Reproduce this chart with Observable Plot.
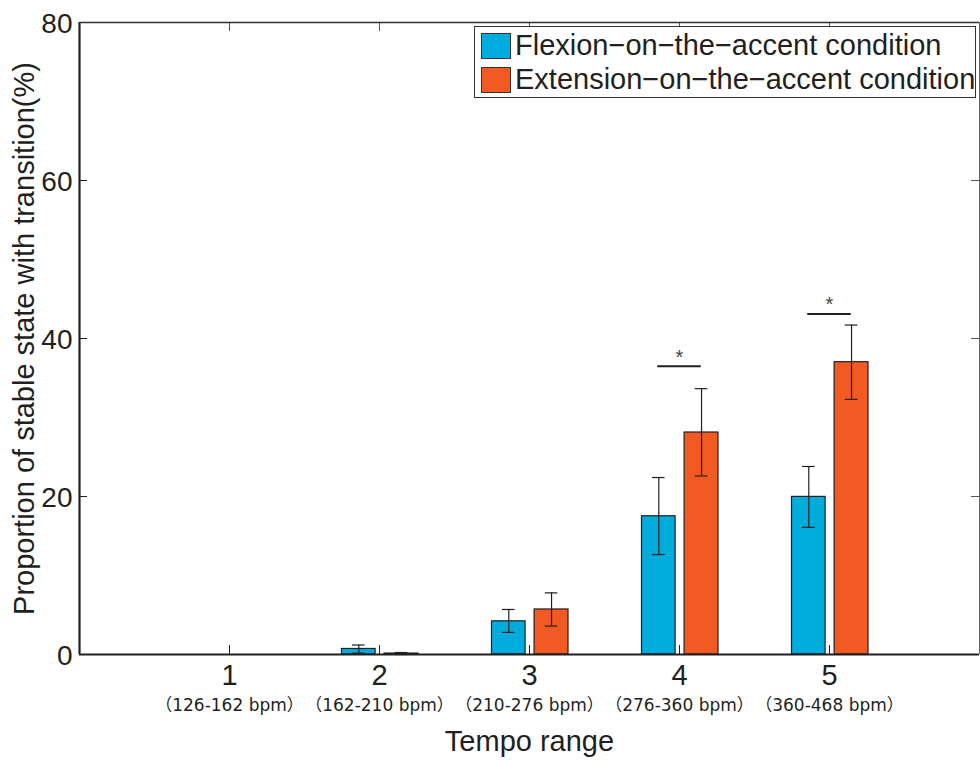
<!DOCTYPE html>
<html>
<head>
<meta charset="utf-8">
<script src="https://cdn.jsdelivr.net/npm/d3@7"></script>
<script src="https://cdn.jsdelivr.net/npm/@observablehq/plot@0.6"></script>
<style>
  html, body { margin: 0; padding: 0; background: #fff; }
  #wrap { position: relative; width: 980px; height: 760px; font-family: "Liberation Sans", Arial, "Noto Sans CJK JP", sans-serif; color: #231f20; }
  #legend { position: absolute; left: 474px; top: 26px; width: 502px; height: 72px; border: 1.5px solid #333; background: #fff; overflow: hidden; box-sizing: border-box; }
  .row { position: absolute; left: 6px; height: 27px; display: flex; align-items: center; white-space: nowrap; font-size: 29px; }
  .sw { width: 30px; height: 26px; border: 1px solid #333; box-sizing: border-box; margin-right: 4px; flex: none; }
</style>
</head>
<body>
<div id="wrap"></div>
<script>
const tempo = [1, 2, 3, 4, 5];
const rangeLabels = ["（126-162 bpm）", "（162-210 bpm）", "（210-276 bpm）", "（276-360 bpm）", "（360-468 bpm）"];
const flexMean = [0, 0.7, 4.2, 17.5, 19.95];
const flexLow  = [0, 0.17, 2.8, 12.65, 16.1];
const flexHigh = [0, 1.2, 5.7, 22.4, 23.8];
const extMean  = [0, 0.12, 5.7, 28.1, 37.0];
const extLow   = [0, 0.0, 3.6, 22.6, 32.3];
const extHigh  = [0, 0.25, 7.8, 33.65, 41.7];
const sigTempo = [4, 5];
const sigLevel = [36.5, 43.1];
const yTicks = [0, 20, 40, 60, 80];
const seriesNames = ["Flexion\u2212on\u2212the\u2212accent condition", "Extension\u2212on\u2212the\u2212accent condition"];
const seriesColors = ["#00acdb", "#f15a22"];

const bars = [];
tempo.forEach((t, i) => {
  bars.push({t, s: 0, mean: flexMean[i], lo: flexLow[i], hi: flexHigh[i], a: -0.25, b: -0.026});
  bars.push({t, s: 1, mean: extMean[i], lo: extLow[i], hi: extHigh[i], a: 0.034, b: 0.26});
});
const errBars = bars.filter(d => d.hi > 0);
const sig = sigTempo.map((t, i) => ({t, y: sigLevel[i]}));

const ink = "#231f20";
const font = "Liberation Sans, Arial, Noto Sans CJK JP, sans-serif";

const chart = Plot.plot({
  width: 980,
  height: 760,
  marginLeft: 79,
  marginRight: 1,
  marginTop: 22,
  marginBottom: 106,
  style: {fontFamily: font, color: ink, background: "#fff"},
  x: {domain: [0, 6], axis: null},
  y: {domain: [0, 80], axis: null},
  color: {domain: [0, 1], range: seriesColors},
  marks: [
    // y tick labels
    Plot.text(yTicks, {x: 0, y: d => d, text: d => String(d), textAnchor: "end", dx: -7, dy: 2, fontSize: 28, fill: ink}),
    // inward ticks left/right
    Plot.tickY(yTicks, {y: d => d, insetRight: 892, stroke: ink, strokeWidth: 1}),
    Plot.tickY(yTicks, {y: d => d, insetLeft: 892, stroke: "#555", strokeWidth: 1}),
    // inward ticks bottom/top
    Plot.tickX(tempo, {x: d => d, insetTop: 623, stroke: ink, strokeWidth: 1}),
    Plot.tickX(tempo, {x: d => d, insetBottom: 623, stroke: "#555", strokeWidth: 1}),
    // bars
    Plot.rect(bars, {x1: d => d.t + d.a, x2: d => d.t + d.b, y1: 0, y2: "mean", fill: d => d.s, stroke: ink, strokeWidth: 1.2}),
    // error bars
    Plot.ruleX(errBars, {x: d => d.t + (d.a + d.b) / 2, y1: "lo", y2: "hi", stroke: ink, strokeWidth: 1.2}),
    Plot.ruleY(errBars, {y: "hi", x1: d => d.t + (d.a + d.b) / 2 - 0.042, x2: d => d.t + (d.a + d.b) / 2 + 0.042, stroke: ink, strokeWidth: 1.2}),
    Plot.ruleY(errBars, {y: "lo", x1: d => d.t + (d.a + d.b) / 2 - 0.042, x2: d => d.t + (d.a + d.b) / 2 + 0.042, stroke: ink, strokeWidth: 1.2}),
    // significance
    Plot.ruleY(sig, {y: "y", x1: d => d.t - 0.145, x2: d => d.t + 0.145, stroke: ink, strokeWidth: 2}),
    Plot.text(sig, {x: "t", y: "y", text: () => "*", dy: -9, fontSize: 20, fill: "#444"}),
    // frame
    Plot.ruleY([0], {stroke: ink, strokeWidth: 2.2}),
    Plot.ruleX([0], {stroke: ink, strokeWidth: 2.2}),
    Plot.ruleY([80], {stroke: "#333", strokeWidth: 1.5}),
    Plot.ruleX([6], {stroke: "#666", strokeWidth: 1}),
    // x tick labels
    Plot.text(tempo, {x: d => d, y: 0, text: d => String(d), dy: 21, fontSize: 29, fill: ink}),
    Plot.text(tempo, {x: d => d, y: 0, text: (d, i) => rangeLabels[i], dy: 51, fontSize: 17, fontFamily: "DejaVu Sans, Noto Sans CJK JP, sans-serif", fill: ink}),
    // axis titles
    Plot.text(["Tempo range"], {x: 3, y: 0, text: d => d, dy: 87, fontSize: 29, fill: ink}),
    Plot.text(["Proportion of stable state with transition(%)"], {x: 0, y: 40, text: d => d, rotate: -90, dx: -55, fontSize: 29, fill: ink})
  ]
});

const wrap = document.getElementById("wrap");
wrap.appendChild(chart);

const legend = document.createElement("div");
legend.id = "legend";
seriesNames.forEach((name, i) => {
  const row = document.createElement("div");
  row.className = "row";
  row.style.top = (i === 0 ? 5 : 39) + "px";
  const sw = document.createElement("div");
  sw.className = "sw";
  sw.style.background = seriesColors[i];
  const label = document.createElement("span");
  label.textContent = name;
  row.appendChild(sw);
  row.appendChild(label);
  legend.appendChild(row);
});
wrap.appendChild(legend);
</script>
</body>
</html>
